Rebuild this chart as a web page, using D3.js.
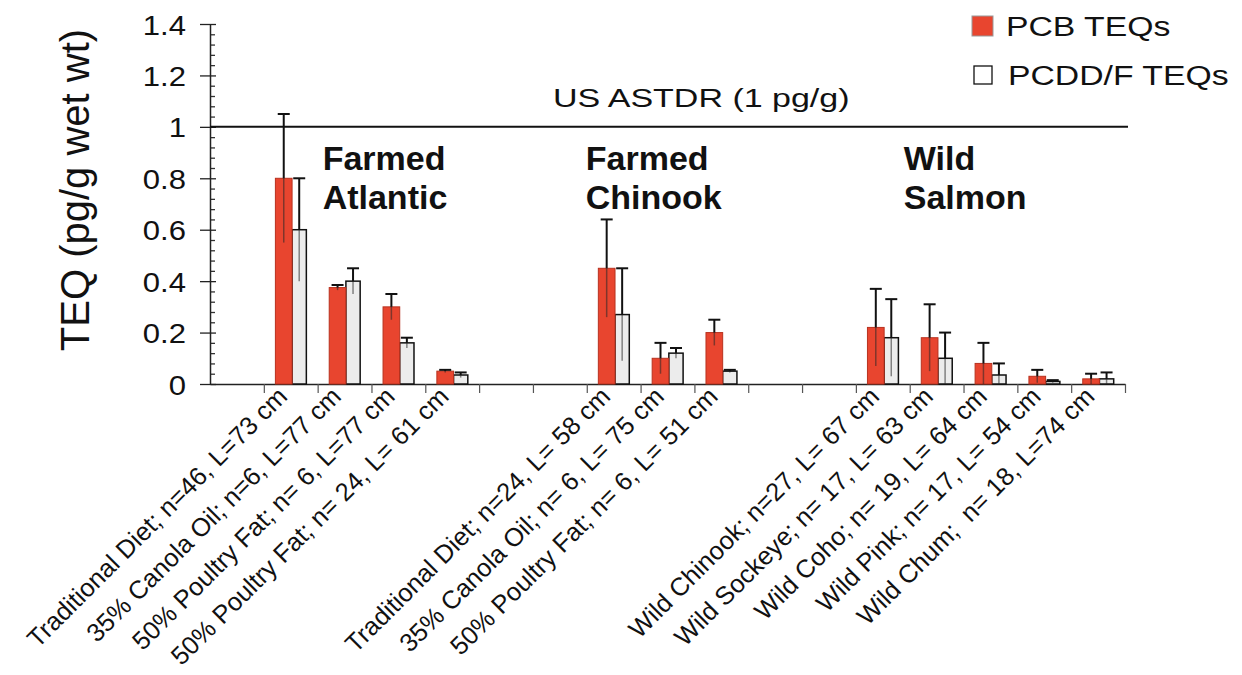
<!DOCTYPE html>
<html>
<head>
<meta charset="utf-8">
<script src="https://cdn.jsdelivr.net/npm/d3@7"></script>
<style>
  html, body { margin: 0; padding: 0; background: #fff; }
  svg { display: block; }
  text { font-family: "Liberation Sans", Arial, Helvetica, sans-serif; fill: #111; white-space: pre; }
</style>
</head>
<body>
<svg id="chart" width="1242" height="675"></svg>
<script>
// ---------- data ----------
const categories = [
  "",
  "Traditional Diet; n=46, L=73 cm",
  "35% Canola Oil; n=6, L=77 cm",
  "50% Poultry Fat; n= 6, L=77 cm",
  "50% Poultry Fat; n= 24, L= 61 cm",
  "",
  "",
  "Traditional Diet; n=24, L= 58 cm",
  "35% Canola Oil; n= 6, L= 75 cm",
  "50% Poultry Fat; n= 6, L= 51 cm",
  "",
  "",
  "Wild Chinook; n=27, L= 67 cm",
  "Wild Sockeye; n= 17, L= 63 cm",
  "Wild Coho; n= 19, L= 64 cm",
  "Wild Pink; n= 17, L= 54 cm",
  "Wild Chum;  n= 18, L=74 cm"
];
const pcb     = [null, 0.80, 0.375, 0.30, 0.05, null, null, 0.45, 0.10, 0.20, null, null, 0.22, 0.18, 0.08, 0.03, 0.02];
const pcbErr  = [null, 0.25, 0.01, 0.05, 0.005, null, null, 0.19, 0.06, 0.05, null, null, 0.15, 0.13, 0.08, 0.025, 0.02];
const pcdd    = [null, 0.60, 0.40, 0.16, 0.035, null, null, 0.27, 0.12, 0.05, null, null, 0.18, 0.10, 0.035, 0.01, 0.02];
const pcddErr = [null, 0.20, 0.05, 0.02, 0.01, null, null, 0.18, 0.02, 0.005, null, null, 0.15, 0.10, 0.045, 0.005, 0.025];

const yTicks = [0, 0.2, 0.4, 0.6, 0.8, 1, 1.2, 1.4];
const yTickLabels = ["0", "0.2", "0.4", "0.6", "0.8", "1", "1.2", "1.4"];
const groupLines = [["Farmed", "Atlantic"], ["Farmed", "Chinook"], ["Wild", "Salmon"]];
const groupSlot = [2, 7, 13];
const seriesNames = ["PCB TEQs", "PCDD/F TEQs"];
const limitValue = 1;
const limitLabel = "US ASTDR (1 pg/g)";
const yTitle = "TEQ (pg/g wet wt)";

// ---------- layout ----------
const svg = d3.select("#chart");
const mLeft = 210, mRight = 1125, mTop = 24, mBottom = 384;

const x = d3.scaleBand().domain(d3.range(categories.length)).range([mLeft, mRight]).padding(0);
const xb = d3.scaleLinear().domain([0, categories.length]).range([mLeft, mRight]);
const y = d3.scaleLinear().domain([0, 1.4]).range([mBottom, mTop]);
const bw = x.bandwidth();

const RED = "#e8452f";

// ---------- y axis ----------
const minorVals = d3.range(0, 36).map(i => i * 0.04).filter(v => Math.abs(Math.round(v / 0.2) * 0.2 - v) > 1e-9);
svg.append("g").attr("transform", `translate(${mLeft},0)`)
  .call(d3.axisRight(y).tickValues(minorVals).tickSize(5).tickFormat(""))
  .call(g => g.select(".domain").remove())
  .call(g => g.selectAll("line").attr("stroke", "#333").attr("stroke-width", 1.3));

const yAxis = svg.append("g").attr("transform", `translate(${mLeft},0)`)
  .call(d3.axisLeft(y).tickValues(yTicks).tickFormat((d, i) => yTickLabels[i]).tickSizeOuter(0));
yAxis.select(".domain").attr("stroke", "#222").attr("stroke-width", 1.5);
yAxis.selectAll(".tick line").attr("x1", -10).attr("x2", 6).attr("stroke", "#222").attr("stroke-width", 1.3);
yAxis.selectAll(".tick text")
  .attr("x", 0).attr("dy", null).attr("y", 0)
  .attr("transform", "translate(-24,10) scale(1.15,1)")
  .style("font-size", "27px").attr("fill", "#111")
  .style("font-family", "'Liberation Sans', Arial, sans-serif");

// y title
svg.append("text")
  .attr("transform", `translate(89,190) rotate(-90)`)
  .attr("text-anchor", "middle")
  .style("font-size", "40px")
  .text(yTitle);

// ---------- x axis ----------
const xAxis = svg.append("g").attr("transform", `translate(0,${mBottom})`)
  .call(d3.axisBottom(xb).tickValues(d3.range(1, categories.length + 1)).tickSize(9).tickSizeOuter(0).tickFormat(""));
xAxis.select(".domain").attr("stroke", "#222").attr("stroke-width", 1.5);
xAxis.selectAll(".tick line").attr("stroke", "#555").attr("stroke-width", 1.2);

// category labels
svg.append("g").selectAll("text")
  .data(categories.map((c, i) => ({ c, i })).filter(d => d.c !== ""))
  .join("text")
  .attr("transform", d => `translate(${x(d.i) + bw / 2 - 2},398) rotate(-45)`)
  .attr("text-anchor", "end")
  .style("font-size", "25.5px")
  .text(d => d.c);

// ---------- limit line ----------
svg.append("line")
  .attr("x1", mLeft).attr("x2", mRight + 3)
  .attr("y1", y(limitValue)).attr("y2", y(limitValue))
  .attr("stroke", "#111").attr("stroke-width", 2);
svg.append("text")
  .attr("transform", `translate(553,107) scale(1.36,1)`)
  .style("font-size", "25px")
  .text(limitLabel);

// ---------- bars ----------
const redX = i => x(i) + bw * 0.215;
const redW = bw * 0.31;
const whiteX = i => x(i) + bw * 0.525;
const whiteW = bw * 0.265;

const idx = d3.range(categories.length).filter(i => pcb[i] !== null);

const gBars = svg.append("g");
gBars.selectAll(".pcdd").data(idx).join("rect")
  .attr("class", "pcdd")
  .attr("x", i => whiteX(i)).attr("width", whiteW)
  .attr("y", i => y(pcdd[i])).attr("height", i => y(0) - y(pcdd[i]))
  .attr("fill", "#ececec").attr("stroke", "#111").attr("stroke-width", 1.5);
gBars.selectAll(".pcb").data(idx).join("rect")
  .attr("class", "pcb")
  .attr("x", i => redX(i)).attr("width", redW)
  .attr("y", i => y(pcb[i])).attr("height", i => y(0) - y(pcb[i]))
  .attr("fill", RED).attr("stroke", "#b8321f").attr("stroke-width", 1);

function errBars(vals, errs, cx, capW, cls) {
  const g = svg.append("g");
  g.selectAll("." + cls + "lo").data(idx).join("line")
    .attr("x1", cx).attr("x2", cx)
    .attr("y1", i => y(Math.max(0, vals[i] - errs[i]))).attr("y2", i => y(vals[i]))
    .attr("stroke", "rgba(40,40,40,0.55)").attr("stroke-width", 1.5);
  g.selectAll("." + cls + "hi").data(idx).join("line")
    .attr("x1", cx).attr("x2", cx)
    .attr("y1", i => y(vals[i])).attr("y2", i => y(vals[i] + errs[i]))
    .attr("stroke", "#111").attr("stroke-width", 2);
  g.selectAll("." + cls + "cap").data(idx).join("line")
    .attr("x1", i => cx(i) - capW / 2).attr("x2", i => cx(i) + capW / 2)
    .attr("y1", i => y(vals[i] + errs[i])).attr("y2", i => y(vals[i] + errs[i]))
    .attr("stroke", "#111").attr("stroke-width", 2);
}
errBars(pcb, pcbErr, i => redX(i) + redW / 2, 12, "ep");
errBars(pcdd, pcddErr, i => whiteX(i) + whiteW / 2, 12, "ed");

// ---------- group labels ----------
const gl = svg.append("g");
const groupOffsets = [5, -1, -6];
groupLines.forEach((lines, k) => {
  const t = gl.append("text")
    .style("font-size", "34px").style("font-weight", "bold");
  lines.forEach((ln, j) => {
    t.append("tspan").attr("x", x(groupSlot[k]) + groupOffsets[k]).attr("y", 170 + j * 39).text(ln);
  });
});

// ---------- legend ----------
const lg = svg.append("g");
lg.append("rect").attr("x", 972).attr("y", 16).attr("width", 21).attr("height", 20)
  .attr("fill", RED).attr("stroke", "#999").attr("stroke-width", 1);
lg.append("text").attr("transform", "translate(1006,36) scale(1.25,1)")
  .style("font-size", "27px").text(seriesNames[0]);
lg.append("rect").attr("x", 974).attr("y", 66).attr("width", 18).attr("height", 18)
  .attr("fill", "#fff").attr("stroke", "#111").attr("stroke-width", 1.3);
lg.append("text").attr("transform", "translate(1008,85) scale(1.25,1)")
  .style("font-size", "27px").text(seriesNames[1]);
</script>
</body>
</html>
